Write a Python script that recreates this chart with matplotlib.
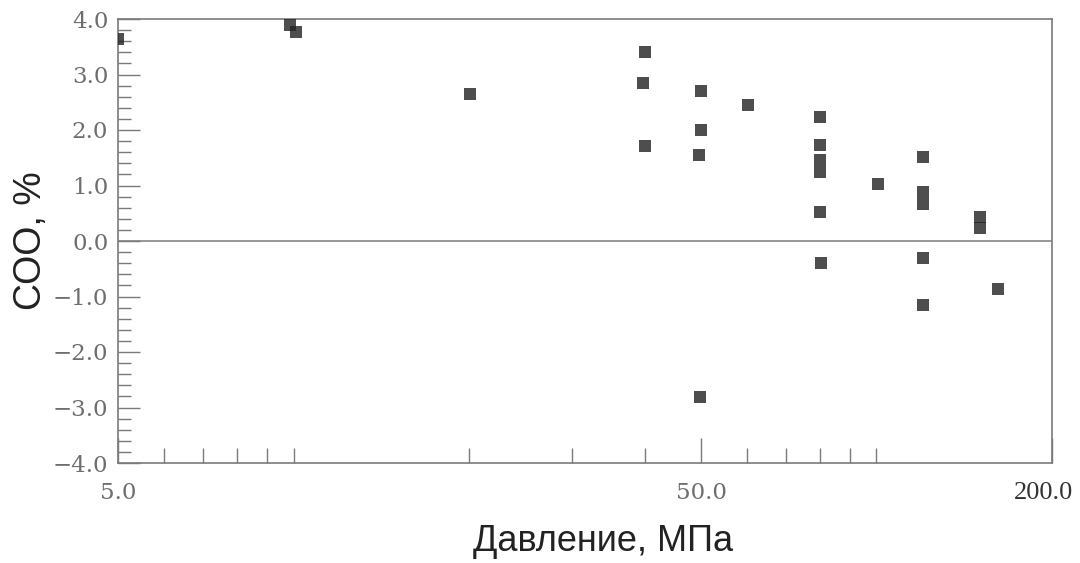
import matplotlib
matplotlib.use("Agg")
import matplotlib.pyplot as plt
from matplotlib.ticker import FixedLocator, FixedFormatter, MultipleLocator
from matplotlib.transforms import ScaledTranslation

# Pressure, MPa
pressure = [5.0, 9.86, 10.1, 20.1, 40.0, 39.7, 40.0, 50.0, 50.0, 49.6, 49.8,
            60.2, 80.0, 80.0, 80.0, 80.0, 80.0, 80.2, 100.6,
            120.0, 120.0, 120.0, 120.0, 120.0, 150.5, 150.5, 161.6]
# Relative deviation, %
deviation = [3.64, 3.89, 3.77, 2.65, 3.41, 2.85, 1.71, 2.70, 2.00, 1.55, -2.81,
             2.45, 2.23, 1.73, 1.46, 1.24, 0.52, -0.39, 1.03,
             1.51, 0.89, 0.67, -0.31, -1.15, 0.43, 0.23, -0.86]

x_major = [5.0, 50.0, 200.0]
x_major_labels = ["5.0", "50.0", "200.0"]
x_minor = [6, 7, 8, 9, 10, 20, 30, 40, 60, 70, 80, 90, 100]
y_major = [-4, -3, -2, -1, 0, 1, 2, 3, 4]
y_major_labels = ["\u22124.0", "\u22123.0", "\u22122.0", "\u22121.0", "0.0",
                  "1.0", "2.0", "3.0", "4.0"]

axis_grey = "#7a7a7a"
label_grey = "#6e6e6e"

fig = plt.figure(figsize=(10.8, 5.63), dpi=100)
ax = fig.add_axes([118 / 1080, 100 / 563, 934 / 1080, 444 / 563])

ax.scatter(pressure, deviation, marker="s", s=78, color="#222222", alpha=0.8,
           linewidths=0, zorder=3)

ax.axhline(0.0, color=axis_grey, lw=1.1, zorder=2)

ax.set_xscale("log")
ax.set_xlim(5.0, 200.0)
ax.set_ylim(-4.0, 4.0)

ax.xaxis.set_major_locator(FixedLocator(x_major))
ax.xaxis.set_major_formatter(FixedFormatter(x_major_labels))
ax.xaxis.set_minor_locator(FixedLocator(x_minor))
ax.xaxis.set_minor_formatter(FixedFormatter([""] * len(x_minor)))
ax.yaxis.set_major_locator(FixedLocator(y_major))
ax.yaxis.set_major_formatter(FixedFormatter(y_major_labels))
ax.yaxis.set_minor_locator(MultipleLocator(0.2))

ax.tick_params(axis="both", which="both", direction="in", color=axis_grey,
               width=1.0, top=False, right=False)
ax.tick_params(axis="y", which="major", length=16, pad=7)
ax.tick_params(axis="y", which="minor", length=9.5)
ax.tick_params(axis="x", which="major", length=18, pad=14)
ax.tick_params(axis="x", which="minor", length=11)

for lab in ax.get_yticklabels() + ax.get_xticklabels():
    lab.set_fontfamily("DejaVu Serif")
    lab.set_fontsize(16.5)
    lab.set_color(label_grey)
last = ax.get_xticklabels()[-1]
last.set_fontfamily("Liberation Serif")
last.set_fontsize(19)
last.set_color("#333333")
last.set_transform(last.get_transform()
                   + ScaledTranslation(-6 / 72, 0, fig.dpi_scale_trans))

for sp in ax.spines.values():
    sp.set_color(axis_grey)
    sp.set_linewidth(1.2)

ax.set_xlabel("Давление, МПа", fontfamily="Liberation Sans", fontsize=26,
              color="#222222")
ax.xaxis.set_label_coords(0.519, -0.176)
ax.set_ylabel("СОО, %", fontfamily="Liberation Sans", fontsize=27,
              color="#222222")
ax.yaxis.set_label_coords(-0.0935, 0.5)
ax.xaxis.label.set_va("center")
ax.yaxis.label.set_va("center")

fig.savefig("out.png", dpi=100, facecolor="white")
